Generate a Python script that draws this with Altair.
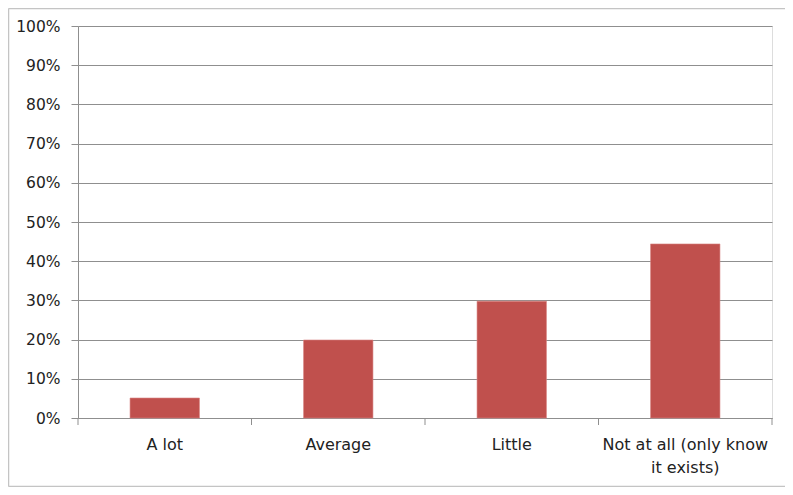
import altair as alt
import pandas as pd

categories = ["A lot", "Average", "Little", "Not at all (only know it exists)"]
values = [0.051, 0.199, 0.298, 0.444]
boundaries = [0, 1, 2, 3, 4]

df = pd.DataFrame({"category": categories, "value": values})
bdf = pd.DataFrame({"b": boundaries})

GRID = "#8f8f8f"
FONT = "DejaVu Sans"

label_expr = ("datum.value == 'Not at all (only know it exists)' ? "
              "['Not at all (only know', 'it exists)'] : datum.label")

bars = alt.Chart(df).mark_bar(color="#C0504D", stroke="#D98583", strokeWidth=0.6).encode(
    x=alt.X("category:N", sort=categories,
            scale=alt.Scale(paddingInner=0.6, paddingOuter=0.3),
            axis=alt.Axis(title=None, labelAngle=0, ticks=False,
                          labelExpr=label_expr, labelLineHeight=23,
                          domainColor=GRID,
                          labelPadding=18, labelFontSize=16, labelFont=FONT,
                          labelColor="#222222", grid=False)),
    y=alt.Y("value:Q", scale=alt.Scale(domain=[0, 1], nice=False),
            axis=alt.Axis(title=None, format=".0%", values=[i / 10 for i in range(11)],
                          grid=True, gridColor=GRID, domainColor=GRID,
                          tickColor=GRID, tickSize=7, labelPadding=11,
                          labelFontSize=15.5, labelFont=FONT, labelColor="#222222")),
)

ticks = alt.Chart(bdf).mark_rule(color=GRID, strokeWidth=1).encode(
    x=alt.X("b:Q", scale=alt.Scale(domain=[0, 4], nice=False), axis=None),
    y=alt.value(392), y2=alt.value(399),
)

one = pd.DataFrame({"a": [0]})
BORDER = "#c4c4c4"
top_line = alt.Chart(one).mark_rule(color=BORDER, strokeWidth=1.5, clip=False).encode(
    x=alt.value(-69.5), x2=alt.value(720), y=alt.value(-17.5))
left_line = alt.Chart(one).mark_rule(color=BORDER, strokeWidth=1.5, clip=False).encode(
    x=alt.value(-69.5), y=alt.value(-17.5), y2=alt.value(460.5))
bottom_line = alt.Chart(one).mark_rule(color=BORDER, strokeWidth=1.5, clip=False).encode(
    x=alt.value(-69.5), x2=alt.value(720), y=alt.value(460.5))

chart = alt.layer(bars, ticks, top_line, left_line, bottom_line).resolve_scale(
    x="independent"
).properties(
    width=694, height=392,
    autosize=alt.AutoSizeParams(type="none"),
    padding={"left": 70, "top": 18, "right": 13, "bottom": 69},
).configure_view(strokeWidth=0, stroke="transparent").configure(background="white")

chart.save("out.html", embed_options={"renderer": "svg", "actions": False})
